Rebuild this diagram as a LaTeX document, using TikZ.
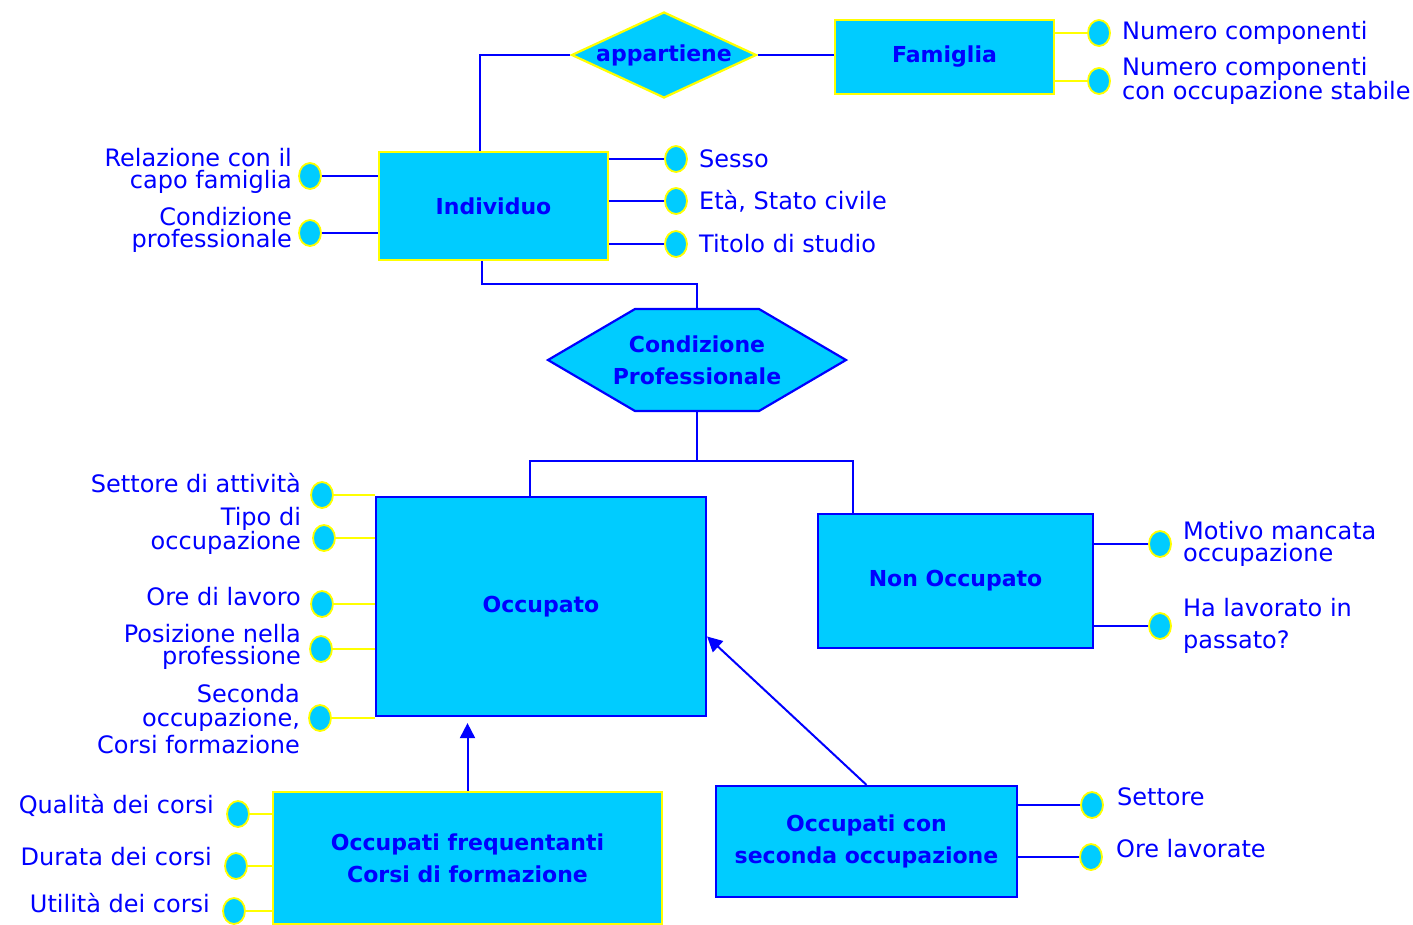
\documentclass[tikz,border=0pt]{standalone}
\usepackage{fontspec}
\setmainfont{DejaVu Sans}
\usepackage{tikz}
\usetikzlibrary{shapes.geometric,positioning,arrows.meta}
\definecolor{erblue}{RGB}{0,0,255}
\definecolor{ercyan}{RGB}{0,204,255}
\definecolor{eryellow}{RGB}{255,255,0}

\begin{document}
\begin{tikzpicture}[x=1pt,y=-1pt,
  box/.style={draw=#1, line width=2.2pt, fill=ercyan, text=erblue, align=center,
    font=\bfseries\fontsize{22}{32}\selectfont},
  box/.default=erblue,
  dot/.style={ellipse, draw=eryellow, line width=1.8pt, fill=ercyan,
    minimum width=22pt, minimum height=26pt, inner sep=0pt},
  lbl/.style={text=erblue, inner sep=0pt, font=\fontsize{24}{22}\selectfont},
  lnk/.style={draw=erblue, line width=2pt},
  ylnk/.style={draw=eryellow, line width=2pt},
  isa/.style={lnk, -{Triangle[width=15pt,length=15pt]}}]
\useasboundingbox (0,0) rectangle (1413,924);

% entities
\node[box=eryellow, minimum width=219pt, minimum height=74pt] (fam) at (944.5,57) {Famiglia};
\node[box=eryellow, minimum width=229pt, minimum height=108pt] (ind) at (493.5,206) {Individuo};
\node[box, minimum width=330pt, minimum height=219pt] (occ) at (541,606.5) {Occupato};
\node[box, minimum width=275pt, minimum height=134pt] (nocc) at (955.5,581) {Non Occupato};
\node[box=eryellow, minimum width=389pt, minimum height=132pt] (ofc) at (467.5,858)
  {Occupati frequentanti\\Corsi di formazione};
\node[box, minimum width=301pt, minimum height=111pt] (ocs) at (866.5,841.5)
  {Occupati con\\seconda occupazione};

% relationship
\node[diamond, box=eryellow, minimum width=185pt, minimum height=86pt, inner sep=0pt,
  label={[text=erblue, font=\bfseries\fontsize{22}{26}\selectfont]center:appartiene}] (app) at (664,55) {};

% generalisation
\filldraw[fill=ercyan, draw=erblue, line width=2.2pt]
  (548,360) -- (635,309) -- (759,309) -- (846,360) -- (759,411) -- (635,411) -- cycle;
\node[box, draw=none, fill=none, minimum width=298pt, minimum height=102pt] (cp) at (697,360)
  {Condizione\\Professionale};

\coordinate (j1) at (590,284);
\coordinate (j2) at (697,461);
\draw[lnk] (app.west) -| ([xshift=-13.5pt]ind.north);
\draw[lnk] (app.east) -- (app.east -| fam.west);
\draw[lnk] ([xshift=-11.5pt]ind.south) |- (j1) -| (cp.north);
\draw[lnk] (cp.south) -- (j2);
\draw[lnk] (j2) -| ([xshift=-11pt]occ.north);
\draw[lnk] (j2) -| ([xshift=-102.5pt]nocc.north);
\draw[isa] (ofc.north) -- ([yshift=-6pt]occ.south -| ofc.north);
\draw[isa] (ocs.north) -- ([yshift=-30pt]occ.east);

% attributes of Famiglia
\node[dot] (f1) at (1099,33) {};
\node[dot] (f2) at (1099,81) {};
\node[lbl, right=11pt of f1] (tf1) {Numero componenti};
\node[lbl, right=11pt of f2, align=left] (tf2) {Numero componenti\\con occupazione stabile};
\draw[ylnk] (fam.east |- f1) -- (f1);
\draw[ylnk] (fam.east |- f2) -- (f2);

% attributes of Individuo
\node[dot] (s1) at (676,159) {};
\node[dot] (s2) at (676,201) {};
\node[dot] (s3) at (676,244) {};
\node[lbl, right=11pt of s1] (ts1) {Sesso};
\node[lbl, right=11pt of s2] (ts2) {Età, Stato civile};
\node[lbl, right=11pt of s3] (ts3) {Titolo di studio};
\draw[lnk] (ind.east |- s1) -- (s1);
\draw[lnk] (ind.east |- s2) -- (s2);
\draw[lnk] (ind.east |- s3) -- (s3);
\node[dot] (r1) at (310,176) {};
\node[dot] (r2) at (310,233) {};
\node[lbl, left=6pt of r1, align=right, yshift=5pt] (tr1) {Relazione con il\\capo famiglia};
\node[lbl, left=6pt of r2, align=right, yshift=3pt] (tr2) {Condizione\\professionale};
\draw[lnk] (r1) -- (ind.west |- r1);
\draw[lnk] (r2) -- (ind.west |- r2);

% attributes of Occupato
\node[dot] (o1) at (322,495) {};
\node[dot] (o2) at (324,538) {};
\node[dot] (o3) at (322,604) {};
\node[dot] (o4) at (321,649) {};
\node[dot] (o5) at (320,718) {};
\node[lbl, left=9pt of o1, yshift=12pt] (to1) {Settore di attività};
\node[lbl, left=11pt of o2, align=right, yshift=7pt] (to2) {Tipo di\\occupazione};
\node[lbl, left=9pt of o3, yshift=7pt] (to3) {Ore di lavoro};
\node[lbl, left=8pt of o4, align=right, yshift=2pt] (to4) {Posizione nella\\professione};
\node[lbl, left=8pt of o5, align=right, yshift=-1pt] (to5) {Seconda\\[2pt]occupazione,\\[2pt]Corsi formazione};
\draw[ylnk] (o1) -- (occ.west |- o1);
\draw[ylnk] (o2) -- (occ.west |- o2);
\draw[ylnk] (o3) -- (occ.west |- o3);
\draw[ylnk] (o4) -- (occ.west |- o4);
\draw[ylnk] (o5) -- (occ.west |- o5);

% attributes of Non Occupato
\node[dot] (n1) at (1160,544) {};
\node[dot] (n2) at (1160,626) {};
\node[lbl, right=11pt of n1, align=left] (tn1) {Motivo mancata\\occupazione};
\node[lbl, right=11pt of n2, align=left] (tn2) {Ha lavorato in\\[10pt]passato?};
\draw[lnk] (nocc.east |- n1) -- (n1);
\draw[lnk] (nocc.east |- n2) -- (n2);

% attributes of the two subsets
\node[dot] (q1) at (238,814) {};
\node[dot] (q2) at (236,866) {};
\node[dot] (q3) at (234,911) {};
\node[lbl, left=12pt of q1, yshift=9pt] (tq1) {Qualità dei corsi};
\node[lbl, left=12pt of q2, yshift=9pt] (tq2) {Durata dei corsi};
\node[lbl, left=12pt of q3, yshift=8pt] (tq3) {Utilità dei corsi};
\draw[ylnk] (q1) -- (ofc.west |- q1);
\draw[ylnk] (q2) -- (ofc.west |- q2);
\draw[ylnk] (q3) -- (ofc.west |- q3);
\node[dot] (c1) at (1092,805) {};
\node[dot] (c2) at (1091,857) {};
\node[lbl, right=13pt of c1, yshift=8pt] (tc1) {Settore};
\node[lbl, right=13pt of c2, yshift=8pt] (tc2) {Ore lavorate};
\draw[lnk] (ocs.east |- c1) -- (c1);
\draw[lnk] (ocs.east |- c2) -- (c2);
\end{tikzpicture}
\end{document}
